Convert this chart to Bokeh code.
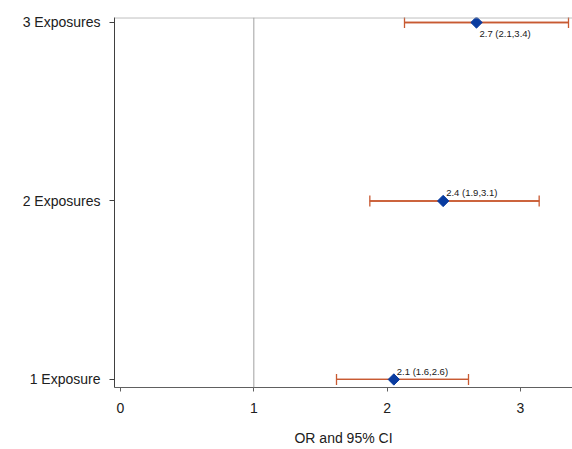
import math
from bokeh.plotting import figure
from bokeh.models import ColumnDataSource, Range1d, Span, FixedTicker, Whisker
from bokeh.embed import file_html
from bokeh.resources import INLINE
from bokeh.core.properties import value

categories = ["1 Exposure", "2 Exposures", "3 Exposures"]
cat_pos = [1, 2, 3]
odds_ratio = [2.05, 2.42, 2.67]
ci_low = [1.62, 1.87, 2.13]
ci_high = [2.61, 3.14, 3.36]
labels = ["2.1 (1.6,2.6)", "2.4 (1.9,3.1)", "2.7 (2.1,3.4)"]
label_dy = [-8, -8, 11]

src = ColumnDataSource(dict(y=cat_pos, x=odds_ratio, lo=ci_low, hi=ci_high,
                            lab=labels, dy=label_dy))

y_top = 3.028
p = figure(width=572, height=449, output_backend="svg", toolbar_location=None,
           x_range=Range1d(-0.045, 3.39), y_range=Range1d(0.955, y_top),
           min_border_left=114, min_border_right=0, min_border_top=17, min_border_bottom=62)
p.xgrid.visible = False
p.ygrid.visible = False
p.outline_line_color = None
p.background_fill_color = "white"
p.border_fill_color = "white"

p.add_layout(Span(location=y_top - 0.002, dimension="width", line_color="#a0a0a0", line_width=1))
p.add_layout(Span(location=1, dimension="height", line_color="#a0a0a0", line_width=1))

p.segment(x0="lo", x1="hi", y0="y", y1="y", source=src, line_color="#c85a32", line_width=1.3)
w = Whisker(base="y", lower="lo", upper="hi", source=src, dimension="width",
            line_color="#c85a32", line_width=1.3)
for h in (w.upper_head, w.lower_head):
    h.size = 11
    h.line_color = "#c85a32"
    h.line_width = 1.3
p.add_layout(w)

p.scatter(x="x", y="y", source=src, marker="square", size=8, angle=math.pi / 4,
          fill_color="#0a3ca0", line_color="#0a3ca0")

p.text(x="x", y="y", text="lab", source=src, x_offset=3, y_offset="dy",
       text_font=value("Liberation Sans"), text_font_size="9.5px",
       text_color="#202020", text_baseline="middle", text_align="left")

p.xaxis.ticker = FixedTicker(ticks=[0, 1, 2, 3])
p.xaxis.axis_label = "OR and 95% CI"
p.xaxis.axis_label_text_font = "Liberation Sans"
p.xaxis.axis_label_text_font_style = "normal"
p.xaxis.axis_label_text_font_size = "14px"
p.xaxis.axis_label_text_color = "#202020"
p.xaxis.axis_label_standoff = 14
p.xaxis.major_label_text_font = "Liberation Sans"
p.xaxis.major_label_text_font_size = "14px"
p.xaxis.major_label_text_color = "#202020"
p.xaxis.major_label_standoff = 11
p.xaxis.major_tick_in = 0
p.xaxis.major_tick_out = 4
p.xaxis.minor_tick_line_color = None
p.xaxis.axis_line_color = "#606060"
p.xaxis.major_tick_line_color = "#606060"

p.yaxis.ticker = FixedTicker(ticks=cat_pos)
p.yaxis.major_label_overrides = {c: n for c, n in zip(cat_pos, categories)}
p.yaxis.major_label_text_font = "Liberation Sans"
p.yaxis.major_label_text_font_size = "14px"
p.yaxis.major_label_text_color = "#202020"
p.yaxis.major_label_standoff = 9
p.yaxis.major_tick_in = 0
p.yaxis.major_tick_out = 5
p.yaxis.minor_tick_line_color = None
p.yaxis.axis_line_color = "#404040"
p.yaxis.major_tick_line_color = "#404040"

open("out.html", "w").write(file_html(p, INLINE))
